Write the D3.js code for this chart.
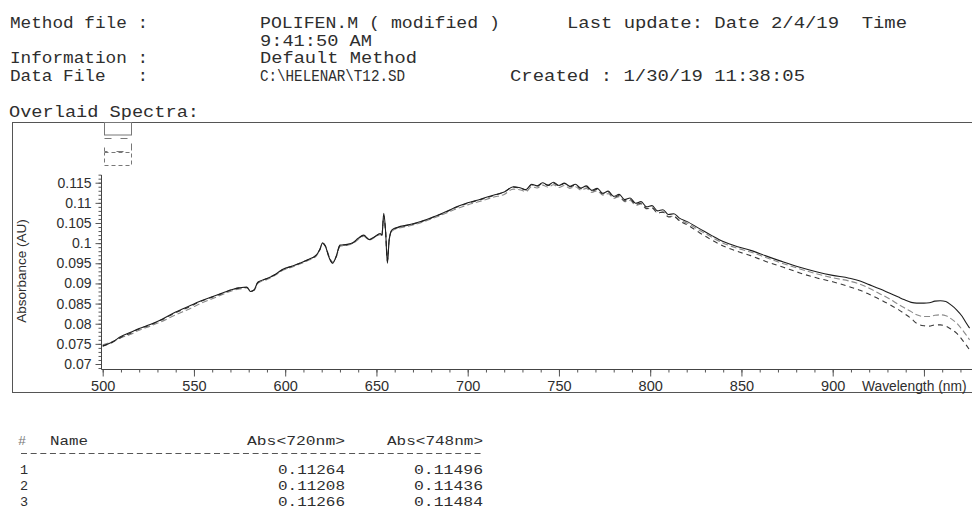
<!DOCTYPE html>
<html><head><meta charset="utf-8">
<script src="https://cdn.jsdelivr.net/npm/d3@7/dist/d3.min.js"></script>
<style>body{margin:0;background:#fff;overflow:hidden} svg{display:block}</style>
</head><body><svg id="c" width="972" height="517"></svg>
<script>
// ---------- data ----------
const wavelengths = [500,505,510,515,520,526,532,540,548,553,560,566,571,575,579,581,583,585,590,594,599,604,608,613,617,619,620.5,622,624,626,628,630,634,637,640,643,646,649,652,653,654,655,656,657,658.5,662,666,670,675,680,688,695,700,707,714,720,725,729,732,735,738,741,744,747,750,753,756,759,762,765,768,771,774,777,780,783,786,789,792,795,798,801,804,807,810,813,816,820,827,834,840,848,855,863,873,882,891,900,909,915,920,926,931,936,939,943,946,950,953,956,959,962,965,968,971,973,975];
const series1 = [0.0745,0.0754,0.0768,0.0778,0.0788,0.0798,0.0810,0.0829,0.0845,0.0855,
 0.0867,0.0877,0.0885,0.0889,0.0891,0.0880,0.0884,0.0903,0.0912,0.0921,
 0.0936,0.0943,0.0950,0.0960,0.0970,0.0985,0.1001,0.0993,0.0965,0.0950,
 0.0968,0.0995,0.0997,0.1001,0.1012,0.1020,0.1009,0.1016,0.1024,0.1020,
 0.1074,0.1030,0.0950,0.1010,0.1033,0.1040,0.1044,0.1048,0.1055,0.1063,
 0.1078,0.1092,0.1100,0.1109,0.1119,0.1127,0.1140,0.1137,0.1133,0.1146,
 0.1142,0.1150,0.1144,0.1151,0.1143,0.1149,0.1141,0.1146,0.1137,0.1142,
 0.1131,0.1136,0.1124,0.1129,0.1116,0.1121,0.1108,0.1112,0.1099,0.1103,
 0.1090,0.1093,0.1080,0.1083,0.1071,0.1073,0.1062,0.1054,0.1036,0.1018,
 0.1004,0.0991,0.0982,0.0969,0.0953,0.0940,0.0929,0.0920,0.0913,0.0906,
 0.0897,0.0886,0.0876,0.0866,0.0860,0.0853,0.0851,0.0851,0.0852,0.0856,
 0.0857,0.0855,0.0846,0.0834,0.0818,0.0803,0.0789];
const series2 = [0.0748,0.0755,0.0765,0.0773,0.0784,0.0794,0.0805,0.0822,0.0838,0.0849,
 0.0862,0.0873,0.0882,0.0886,0.0889,0.0881,0.0883,0.0900,0.0910,0.0919,
 0.0933,0.0941,0.0948,0.0958,0.0968,0.0983,0.1000,0.0994,0.0968,0.0953,
 0.0966,0.0992,0.0995,0.0999,0.1009,0.1017,0.1008,0.1014,0.1021,0.1019,
 0.1062,0.1028,0.0962,0.1008,0.1030,0.1037,0.1041,0.1045,0.1052,0.1060,
 0.1074,0.1087,0.1095,0.1104,0.1114,0.1121,0.1134,0.1132,0.1128,0.1140,
 0.1137,0.1144,0.1139,0.1145,0.1138,0.1143,0.1136,0.1140,0.1132,0.1136,
 0.1126,0.1130,0.1119,0.1123,0.1111,0.1115,0.1103,0.1106,0.1094,0.1097,
 0.1085,0.1087,0.1075,0.1077,0.1066,0.1067,0.1057,0.1050,0.1032,0.1014,
 0.1000,0.0987,0.0978,0.0965,0.0949,0.0936,0.0924,0.0914,0.0906,0.0898,
 0.0888,0.0874,0.0862,0.0848,0.0840,0.0830,0.0822,0.0818,0.0818,0.0821,
 0.0822,0.0820,0.0812,0.0801,0.0785,0.0773,0.0760];
const series3 = [0.0744,0.0753,0.0766,0.0776,0.0787,0.0797,0.0809,0.0827,0.0843,0.0854,
 0.0866,0.0876,0.0885,0.0889,0.0890,0.0880,0.0884,0.0902,0.0912,0.0921,
 0.0935,0.0943,0.0950,0.0960,0.0970,0.0984,0.0999,0.0992,0.0966,0.0951,
 0.0967,0.0994,0.0996,0.1000,0.1011,0.1019,0.1009,0.1015,0.1023,0.1020,
 0.1068,0.1030,0.0956,0.1009,0.1032,0.1039,0.1043,0.1047,0.1054,0.1062,
 0.1077,0.1091,0.1099,0.1108,0.1118,0.1127,0.1139,0.1136,0.1132,0.1145,
 0.1141,0.1149,0.1143,0.1149,0.1142,0.1148,0.1140,0.1144,0.1135,0.1140,
 0.1129,0.1134,0.1122,0.1127,0.1114,0.1118,0.1105,0.1109,0.1096,0.1099,
 0.1086,0.1088,0.1075,0.1077,0.1065,0.1066,0.1055,0.1046,0.1026,0.1007,
 0.0993,0.0979,0.0969,0.0955,0.0940,0.0926,0.0914,0.0904,0.0892,0.0883,
 0.0873,0.0860,0.0848,0.0835,0.0826,0.0813,0.0801,0.0795,0.0794,0.0797,
 0.0797,0.0794,0.0786,0.0776,0.0760,0.0748,0.0735];

const yTickValues = [0.07,0.075,0.08,0.085,0.09,0.095,0.1,0.105,0.11,0.115];
const yTickLabels = ["0.07","0.075","0.08","0.085","0.09","0.095","0.1","0.105","0.11","0.115"];
const yMinorTicks = d3.range(69,118).map(d => d/1000);
const xTickValues = [500,550,600,650,700,750,800,850,900,950];
const xTickLabels = ["500","550","600","650","700","750","800","850","900",""];
const xMinorTicks = d3.range(500,981,10);

const tableIds = ["1","2","3"];
const abs720 = ["0.11264","0.11208","0.11266"];
const abs748 = ["0.11496","0.11436","0.11484"];

// ---------- drawing ----------
const svg = d3.select("#c");
const MONO = "'Liberation Mono','Courier New',monospace";
const SANS = "'Liberation Sans',Arial,Helvetica,sans-serif";
const INK = "#2e2e2e";

// header
const header = [
  {t:"Method file :", x:10, y:28, w:138},
  {t:"POLIFEN.M ( modified )", x:260, y:28, w:240},
  {t:"Last update: Date 2/4/19  Time", x:567, y:28, w:340},
  {t:"9:41:50 AM", x:260, y:46, w:112},
  {t:"Information :", x:10, y:63, w:138},
  {t:"Default Method", x:260, y:63, w:157},
  {t:"Data File   :", x:10, y:81, w:138},
  {t:"C:\\HELENAR\\T12.SD", x:260, y:81, w:145},
  {t:"Created : 1/30/19 11:38:05", x:510, y:81, w:295},
  {t:"Overlaid Spectra:", x:9, y:117, w:190}
];
svg.append("g").selectAll("text").data(header).join("text")
  .attr("x", d => d.x).attr("y", d => d.y)
  .attr("textLength", d => d.w).attr("lengthAdjust", "spacingAndGlyphs")
  .style("font-family", MONO).style("font-size", "16px").style("fill", INK)
  .style("white-space", "pre")
  .text(d => d.t);

// outer frame
svg.append("rect").attr("x", 12.5).attr("y", 122.5).attr("width", 990).attr("height", 270)
  .attr("fill", "none").attr("stroke", "#555").attr("stroke-width", 1);

// legend boxes
const legendBoxes = [
  {y:122.5, h:12.5, dash:null},
  {y:138.5, h:13, dash:"7,9"},
  {y:152.5, h:13, dash:"4,3"}
];
svg.append("g").selectAll("rect").data(legendBoxes).join("rect")
  .attr("x", 104.5).attr("y", d => d.y).attr("width", 27).attr("height", d => d.h)
  .attr("fill", "none").attr("stroke", "#777").attr("stroke-width", 1)
  .attr("stroke-dasharray", d => d.dash);

// scales
const x = d3.scaleLinear().domain([500, 950]).range([102.7, 923.95]);
const y = d3.scaleLinear().domain([0.07, 0.115]).range([364, 182.7]);
const axisX0 = 101.5, axisY0 = 369.5;

// Y axis
const gy = svg.append("g").attr("transform", `translate(${axisX0},0)`);
gy.call(d3.axisLeft(y).tickValues(yMinorTicks).tickSize(3).tickFormat(""));
gy.select(".domain").remove();
const gy2 = svg.append("g").attr("transform", `translate(${axisX0},0)`);
gy2.call(d3.axisLeft(y).tickValues(yTickValues).tickSize(6).tickPadding(4)
  .tickFormat((d,i) => yTickLabels[i]));
gy2.select(".domain").remove();
svg.append("line").attr("x1", axisX0).attr("x2", axisX0).attr("y1", 175).attr("y2", axisY0)
  .attr("stroke", "#444");
[gy, gy2].forEach(g => {
  g.selectAll("line").attr("stroke", "#555");
  g.selectAll("text").style("font-family", SANS).style("font-size", "14px").style("fill", INK);
});

// X axis
const gx = svg.append("g").attr("transform", `translate(0,${axisY0})`);
gx.call(d3.axisBottom(x).tickValues(xMinorTicks).tickSize(3).tickFormat(""));
gx.select(".domain").remove();
const gx2 = svg.append("g").attr("transform", `translate(0,${axisY0})`);
gx2.call(d3.axisBottom(x).tickValues(xTickValues).tickSize(7).tickPadding(4)
  .tickFormat((d,i) => xTickLabels[i]));
gx2.select(".domain").remove();
svg.append("line").attr("x1", axisX0).attr("x2", 972).attr("y1", axisY0).attr("y2", axisY0)
  .attr("stroke", "#444");
[gx, gx2].forEach(g => {
  g.selectAll("line").attr("stroke", "#555");
  g.selectAll("text").style("font-family", SANS).style("font-size", "14.5px").style("fill", INK);
});

// axis titles
svg.append("text").attr("x", 862).attr("y", 390.5)
  .style("font-family", SANS).style("font-size", "13.8px").style("fill", INK)
  .text("Wavelength (nm)");
svg.append("text").attr("transform", "translate(26,271) rotate(-90)")
  .attr("text-anchor", "middle")
  .style("font-family", SANS).style("font-size", "13.5px").style("fill", INK)
  .text("Absorbance (AU)");

// spectra
const line = d3.line().x(d => x(d[0])).y(d => y(d[1])).curve(d3.curveMonotoneX);
const spectra = [
  {vals: series2, color:"#8a8a8a", w:1.1, dash:"6,3"},
  {vals: series3, color:"#3a3a3a", w:1.1, dash:"5,4"},
  {vals: series1, color:"#1e1e1e", w:1.1, dash:null}
];
svg.append("g").selectAll("path").data(spectra).join("path")
  .attr("d", s => line(wavelengths.map((w,i) => [w, s.vals[i]])))
  .attr("fill", "none").attr("stroke", s => s.color).attr("stroke-width", s => s.w)
  .attr("stroke-dasharray", s => s.dash).attr("stroke-linejoin", "round");

// results table
const tg = svg.append("g").style("font-family", MONO).style("font-size", "13.5px").style("fill", INK);
tg.append("text").attr("x", 18).attr("y", 445).style("fill", "#777").text("#");
tg.append("text").attr("x", 50).attr("y", 445).attr("textLength", 38).attr("lengthAdjust", "spacingAndGlyphs").text("Name");
tg.append("text").attr("x", 247).attr("y", 445).attr("textLength", 98).attr("lengthAdjust", "spacingAndGlyphs").text("Abs<720nm>");
tg.append("text").attr("x", 387).attr("y", 445).attr("textLength", 96).attr("lengthAdjust", "spacingAndGlyphs").text("Abs<748nm>");
// separator row of hyphens
tg.append("line").attr("x1", 21).attr("x2", 483).attr("y1", 453.5).attr("y2", 453.5)
  .attr("stroke", "#555").attr("stroke-width", 1).attr("stroke-dasharray", "6,3.65");
tg.selectAll("text.id").data(tableIds).join("text").attr("class", "id")
  .attr("x", 20).attr("y", (d,i) => 474 + i*16).text(d => d);
tg.selectAll("text.a720").data(abs720).join("text").attr("class", "a720")
  .attr("x", 278).attr("y", (d,i) => 474 + i*16)
  .attr("textLength", 67).attr("lengthAdjust", "spacingAndGlyphs").text(d => d);
tg.selectAll("text.a748").data(abs748).join("text").attr("class", "a748")
  .attr("x", 414).attr("y", (d,i) => 474 + i*16)
  .attr("textLength", 69).attr("lengthAdjust", "spacingAndGlyphs").text(d => d);
</script>
</body></html>
